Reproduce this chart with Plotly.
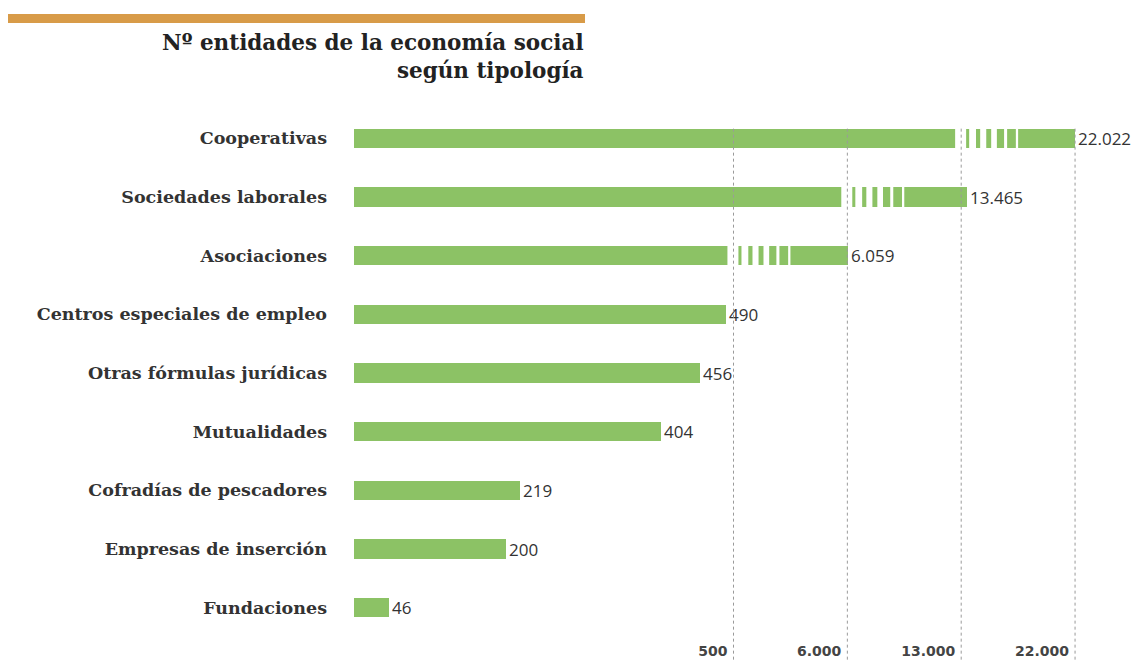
import numpy as np
import plotly.graph_objects as go

# ---- data ----
categories = [
    "Cooperativas",
    "Sociedades laborales",
    "Asociaciones",
    "Centros especiales de empleo",
    "Otras fórmulas jurídicas",
    "Mutualidades",
    "Cofradías de pescadores",
    "Empresas de inserción",
    "Fundaciones",
]
values = [22022, 13465, 6059, 490, 456, 404, 219, 200, 46]
tick_values = [500, 6000, 13000, 22000]
tick_labels = ["500", "6.000", "13.000", "22.000"]

# ---- broken-axis scale: 0..500 linear, then each later segment gets equal width ----
SEG = 150.0
scale_in = [0] + tick_values
scale_out = [0, 500] + [500 + SEG * (i + 1) for i in range(len(tick_values) - 1)]


def to_axis(v):
    if v <= scale_in[-1]:
        return float(np.interp(v, scale_in, scale_out))
    slope = SEG / (scale_in[-1] - scale_in[-2])
    return scale_out[-1] + (v - scale_in[-1]) * slope


def fmt(v):
    return f"{v:,}".replace(",", ".")


x_axis = [to_axis(v) for v in values]
texts = [fmt(v) for v in values]

W, H = 1136, 660
ML, MR, MT, MB = 354, 0, 109, 0
PW, PH = W - ML - MR, H - MT - MB
XMAX = PW / 0.759
N = len(categories)
BOTTOM = (N - 0.5) + 23 / 58.66
BAR_W = 0.33
GREEN = "#8cc265"


def px_x(p):
    return (p - ML) / PW


def px_y(p):
    return (H - MB - p) / PH


fig = go.Figure()
fig.add_trace(go.Bar(
    y=categories, x=x_axis, orientation="h", width=BAR_W,
    marker=dict(color=GREEN, line=dict(width=0)),
    text=texts, textposition="outside", cliponaxis=False, constraintext="none",
    textfont=dict(family="Open Sans", size=17, color="#333333"),
    hoverinfo="skip",
))

shapes = []
# break marks (white gaps) near the axis break preceding each long bar's final segment
GAPS = [(-8, 6.5), (10.5, 19.5), (25, 33), (39.5, 47), (56.5, 60.5), (72, 75)]
for i, v in enumerate(values):
    k = max([j for j, t in enumerate(tick_values) if t <= v], default=-1)
    if k >= 1:
        base = to_axis(tick_values[k - 1])
        for g0, g1 in GAPS:
            shapes.append(dict(type="rect", xref="x", yref="y", layer="above",
                               x0=base + g0, x1=base + g1, y0=i - 0.2, y1=i + 0.2,
                               fillcolor="white", line=dict(width=0)))
# dashed reference lines
for t in tick_values:
    xv = to_axis(t)
    shapes.append(dict(type="line", xref="x", yref="y", layer="above",
                       x0=xv, x1=xv, y0=-BAR_W / 2, y1=BOTTOM,
                       line=dict(color="#9a9a9a", width=1, dash="3px,3px")))
# orange header bar
shapes.append(dict(type="rect", xref="paper", yref="paper",
                   x0=px_x(8), x1=px_x(585), y0=px_y(23), y1=px_y(14),
                   fillcolor="#d89b48", line=dict(width=0)))

title_font = dict(family="DejaVu Serif", size=21.5, color="#222222", weight="bold")
annotations = [
    dict(text="Nº entidades de la economía social<br>según tipología",
         xref="paper", yref="paper", align="right",
         x=px_x(586), y=px_y(57), xanchor="right", yanchor="middle", showarrow=False,
         font=title_font),
]

fig.update_layout(
    width=W, height=H,
    margin=dict(l=ML, r=MR, t=MT, b=MB, pad=0),
    paper_bgcolor="white", plot_bgcolor="white",
    showlegend=False, bargap=0,
    shapes=shapes, annotations=annotations,
    xaxis=dict(range=[0, XMAX], showgrid=False, zeroline=False, showline=False,
               tickvals=[to_axis(t) for t in tick_values], ticktext=tick_labels,
               ticks="", ticklabelposition="inside left",
               ticklabelshift=-6, ticklabelstandoff=-5,
               tickfont=dict(family="DejaVu Sans", size=14, color="#444444", weight="bold")),
    yaxis=dict(categoryorder="array", categoryarray=categories,
               range=[BOTTOM, -0.5], showgrid=False, zeroline=False, showline=False,
               ticks="", ticklabelstandoff=26,
               tickfont=dict(family="DejaVu Serif", size=17.5, color="#333333", weight="bold")),
)

fig.write_html(
    "out.html",
    config={"displayModeBar": False},
    post_script="document.body.style.margin='0px';document.body.style.overflow='hidden';",
)
